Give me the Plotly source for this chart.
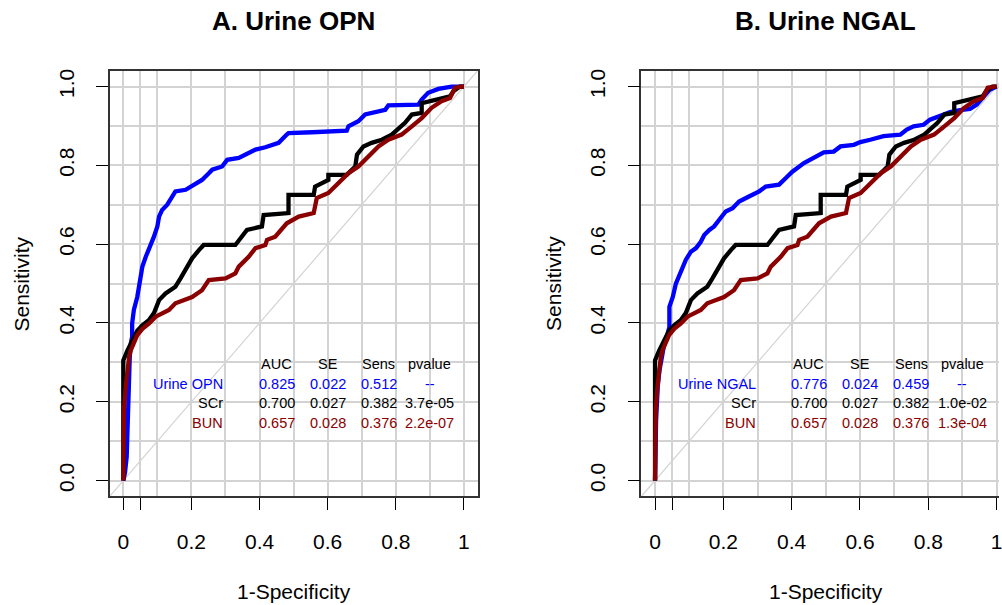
import plotly.graph_objects as go

# ---- data ----
scr_fpr = [0, 0, 0.012, 0.026, 0.041, 0.056, 0.075, 0.09, 0.105, 0.124, 0.153, 0.168, 0.188, 0.202, 0.222,
           0.236, 0.329, 0.344, 0.363, 0.407, 0.412, 0.485, 0.485, 0.559, 0.563, 0.602, 0.602, 0.656, 0.681,
           0.686, 0.705, 0.729, 0.759, 0.788, 0.808, 0.827, 0.847, 0.876, 0.876, 0.9, 0.93, 0.959, 0.969, 0.988, 1]
scr_tpr = [0, 0.305, 0.33, 0.356, 0.38, 0.394, 0.407, 0.425, 0.458, 0.475, 0.492, 0.513, 0.543, 0.564, 0.585,
           0.598, 0.598, 0.615, 0.636, 0.645, 0.674, 0.679, 0.725, 0.725, 0.746, 0.763, 0.776, 0.776, 0.797,
           0.827, 0.848, 0.857, 0.865, 0.878, 0.895, 0.908, 0.929, 0.933, 0.958, 0.963, 0.967, 0.975, 0.988, 1.0, 1.0]

bun_fpr = [0, 0, 0.002, 0.007, 0.012, 0.017, 0.022, 0.031, 0.041, 0.056, 0.075, 0.095, 0.134, 0.153, 0.202,
           0.231, 0.251, 0.3, 0.329, 0.339, 0.368, 0.388, 0.417, 0.422, 0.446, 0.48, 0.515, 0.559, 0.568, 0.602,
           0.632, 0.661, 0.69, 0.72, 0.749, 0.778, 0.817, 0.847, 0.876, 0.905, 0.934, 0.959, 0.974, 0.993, 1]
bun_tpr = [0, 0.15, 0.178, 0.237, 0.288, 0.314, 0.331, 0.348, 0.369, 0.385, 0.398, 0.416, 0.433, 0.45, 0.466,
           0.483, 0.509, 0.513, 0.526, 0.543, 0.568, 0.59, 0.598, 0.611, 0.619, 0.653, 0.67, 0.679, 0.717, 0.73,
           0.755, 0.78, 0.797, 0.823, 0.848, 0.865, 0.878, 0.899, 0.92, 0.946, 0.963, 0.971, 0.997, 1.0, 1.0]

opn_fpr = [0, 0.005, 0.01, 0.013, 0.017, 0.019, 0.022, 0.026, 0.026, 0.031, 0.041, 0.051, 0.056, 0.066, 0.08,
           0.09, 0.1, 0.105, 0.114, 0.129, 0.144, 0.153, 0.183, 0.212, 0.231, 0.251, 0.261, 0.29, 0.305, 0.339,
           0.358, 0.388, 0.417, 0.456, 0.48, 0.485, 0.554, 0.656, 0.661, 0.69, 0.71, 0.739, 0.769, 0.778, 0.866,
           0.876, 0.895, 0.925, 0.964, 1]
opn_tpr = [0, 0.02, 0.06, 0.178, 0.25, 0.314, 0.348, 0.365, 0.399, 0.433, 0.466, 0.517, 0.543, 0.568, 0.594,
           0.619, 0.645, 0.67, 0.687, 0.7, 0.721, 0.734, 0.738, 0.755, 0.763, 0.78, 0.789, 0.797, 0.814, 0.819,
           0.827, 0.84, 0.846, 0.857, 0.878, 0.882, 0.884, 0.888, 0.899, 0.912, 0.929, 0.935, 0.941, 0.952, 0.954,
           0.967, 0.984, 0.994, 1.0, 1.0]

ngal_fpr = [0, 0.003, 0.008, 0.013, 0.022, 0.027, 0.037, 0.042, 0.042, 0.052, 0.061, 0.076, 0.09, 0.105, 0.12,
            0.134, 0.144, 0.159, 0.173, 0.188, 0.207, 0.227, 0.246, 0.275, 0.305, 0.324, 0.363, 0.383, 0.402,
            0.436, 0.465, 0.494, 0.523, 0.543, 0.582, 0.601, 0.63, 0.669, 0.718, 0.737, 0.757, 0.786, 0.805,
            0.835, 0.864, 0.893, 0.922, 0.942, 0.961, 0.98, 1]
ngal_tpr = [0, 0.15, 0.24, 0.28, 0.322, 0.348, 0.373, 0.39, 0.441, 0.466, 0.5, 0.534, 0.56, 0.581, 0.59,
            0.606, 0.623, 0.636, 0.645, 0.662, 0.683, 0.691, 0.708, 0.721, 0.734, 0.746, 0.751, 0.768, 0.784,
            0.806, 0.819, 0.833, 0.835, 0.848, 0.852, 0.859, 0.865, 0.874, 0.878, 0.891, 0.899, 0.903, 0.916,
            0.926, 0.935, 0.94, 0.943, 0.954, 0.975, 0.992, 1.0]

table_header = ["AUC", "SE", "Sens", "pvalue"]
panel_titles = ["A. Urine OPN", "B. Urine NGAL"]
markers = ["Urine OPN", "Urine NGAL"]
opn_row = ["0.825", "0.022", "0.512", "--"]
ngal_row = ["0.776", "0.024", "0.459", "--"]
scr_rows = [["0.700", "0.027", "0.382", "3.7e-05"], ["0.700", "0.027", "0.382", "1.0e-02"]]
bun_rows = [["0.657", "0.028", "0.376", "2.2e-07"], ["0.657", "0.028", "0.376", "1.3e-04"]]

x_tickvals = [0, 0.05, 0.2, 0.4, 0.6, 0.8, 1]
x_ticktext = ["0", "", "0.2", "0.4", "0.6", "0.8", "1"]
y_tickvals = [0, 0.2, 0.4, 0.6, 0.8, 1.0]
y_ticktext = ["0.0", "0.2", "0.4", "0.6", "0.8", "1.0"]

BLUE = "#0000FF"
BLACK = "#000000"
DRED = "#8B0000"
GRID = "#D3D3D3"
FONT = "Liberation Sans, Arial, Helvetica, sans-serif"

W, H = 1002, 605

fig = go.Figure()

panels = [
    dict(xa="x", ya="y", fpr=opn_fpr, tpr=opn_tpr, row=opn_row),
    dict(xa="x2", ya="y2", fpr=ngal_fpr, tpr=ngal_tpr, row=ngal_row),
]

for i, p in enumerate(panels):
    fig.add_trace(go.Scatter(x=[-0.05, 1.05], y=[-0.05, 1.05], mode="lines",
                             line=dict(color=GRID, width=1.2), xaxis=p["xa"], yaxis=p["ya"],
                             showlegend=False, hoverinfo="skip"))
    fig.add_trace(go.Scatter(x=p["fpr"], y=p["tpr"], mode="lines", line=dict(color=BLUE, width=4.3),
                             xaxis=p["xa"], yaxis=p["ya"], showlegend=False, name=markers[i]))
    fig.add_trace(go.Scatter(x=scr_fpr, y=scr_tpr, mode="lines", line=dict(color=BLACK, width=4.3),
                             xaxis=p["xa"], yaxis=p["ya"], showlegend=False, name="SCr"))
    fig.add_trace(go.Scatter(x=bun_fpr, y=bun_tpr, mode="lines", line=dict(color=DRED, width=4.3),
                             xaxis=p["xa"], yaxis=p["ya"], showlegend=False, name="BUN"))

common_x = dict(tickvals=x_tickvals, ticktext=x_ticktext, showgrid=True, gridcolor=GRID, gridwidth=1.5,
                minor=dict(tickvals=[0.1, 0.3, 0.5, 0.7, 0.9], showgrid=True, gridcolor=GRID, gridwidth=1.5, ticks=""),
                ticks="outside", ticklen=12, tickwidth=1.2, tickcolor="#000", zeroline=False,
                showline=True, linecolor="#333", linewidth=1.5, mirror=True, ticklabeloverflow="allow",
                tickfont=dict(family=FONT, size=21, color="#000"), ticklabelstandoff=14)
common_y = dict(tickvals=y_tickvals, ticktext=y_ticktext, showgrid=True, gridcolor=GRID, gridwidth=1.5,
                minor=dict(tickvals=[0.1, 0.3, 0.5, 0.7, 0.9], showgrid=True, gridcolor=GRID, gridwidth=1.5, ticks=""),
                ticks="outside", ticklen=12, tickwidth=1.2, tickcolor="#000", zeroline=False,
                showline=True, linecolor="#333", linewidth=1.5, tickangle=-90,
                tickfont=dict(family=FONT, size=21, color="#000"), range=[-0.04, 1.04], ticklabelstandoff=14)

y_dom = [(H - 496) / H, (H - 69) / H]
fig.update_layout(
    width=W, height=H, margin=dict(l=0, r=0, t=0, b=0),
    paper_bgcolor="white", plot_bgcolor="white",
    font=dict(family=FONT, color="#000"),
    xaxis=dict(common_x, domain=[110 / W, 479 / W], range=[-0.04, 1.04], anchor="y"),
    yaxis=dict(common_y, domain=y_dom, anchor="x", mirror=True),
    xaxis2=dict(common_x, domain=[643.3 / W, 1.0], range=[-0.04, 1.007], anchor="y2"),
    yaxis2=dict(common_y, domain=y_dom, anchor="x2", mirror=False),
)

annotations = []
centers = [294.5, 828]
ylab_x = [22, 555]
for i in range(2):
    annotations.append(dict(text="<b>%s</b>" % panel_titles[i], x=centers[i] / W, y=1 - 19 / H, xref="paper",
                            yref="paper", showarrow=False, xanchor="center", yanchor="middle",
                            font=dict(family=FONT, size=26, color="#000")))
    annotations.append(dict(text="1-Specificity", x=centers[i] / W, y=1 - 591 / H, xref="paper", yref="paper",
                            showarrow=False, xanchor="center", yanchor="middle",
                            font=dict(family=FONT, size=21, color="#000")))
    annotations.append(dict(text="Sensitivity", x=ylab_x[i] / W, y=1 - 282.5 / H, xref="paper", yref="paper",
                            showarrow=False, xanchor="center", yanchor="middle", textangle=-90,
                            font=dict(family=FONT, size=21, color="#000")))

col_x = [0.45, 0.6, 0.75, 0.9]
row_y = [0.297, 0.246, 0.197, 0.146]
label_x = 0.3
for i, p in enumerate(panels):
    xr, yr = p["xa"], p["ya"]
    for j, h in enumerate(table_header):
        annotations.append(dict(text=h, x=col_x[j], y=row_y[0], xref=xr, yref=yr, showarrow=False,
                                xanchor="center", yanchor="middle", font=dict(family=FONT, size=14.5, color="#000")))
    rows = [(markers[i], p["row"], BLUE), ("SCr", scr_rows[i], BLACK), ("BUN", bun_rows[i], DRED)]
    for r, (lab, vals, col) in enumerate(rows):
        yy = row_y[r + 1]
        annotations.append(dict(text=lab, x=label_x, y=yy, xref=xr, yref=yr, showarrow=False,
                                xanchor="right", yanchor="middle", font=dict(family=FONT, size=14.5, color=col)))
        for j, v in enumerate(vals):
            annotations.append(dict(text=v, x=col_x[j], y=yy, xref=xr, yref=yr, showarrow=False,
                                    xanchor="center", yanchor="middle",
                                    font=dict(family=FONT, size=14.5, color=col)))

fig.update_layout(annotations=annotations)
fig.write_html("out.html", config={"displayModeBar": False},
               post_script="document.body.style.margin='0';document.body.style.overflow='hidden';")
